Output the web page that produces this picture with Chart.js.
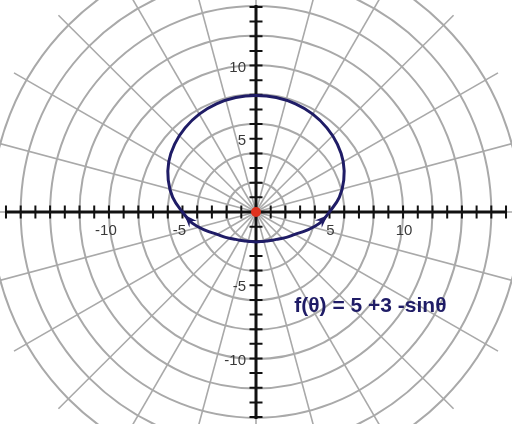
<!DOCTYPE html>
<html>
<head>
<meta charset="utf-8">
<script src="https://cdn.jsdelivr.net/npm/chart.js@4.4.1/dist/chart.umd.min.js"></script>
<style>
  html, body { margin: 0; padding: 0; background: #fff; }
  canvas { display: block; }
</style>
</head>
<body>
<canvas id="polarChart" width="512" height="424"></canvas>
<script>
// curve samples: angle (degrees) and radius
const thetaDeg = [0, 10, 20, 30, 40, 50, 60, 70, 80, 90, 100, 110, 120, 130, 140, 150, 160, 170,
  180, 190, 200, 210, 220, 230, 240, 250, 260, 270, 280, 290, 300, 310, 320, 330, 340, 350, 360];
const rPolar = [5, 5.75, 6.35, 6.85, 7.22, 7.5, 7.72, 7.86, 7.94, 7.96, 7.94, 7.86, 7.72, 7.5, 7.22, 6.85, 6.35, 5.75,
  5, 4.4, 3.65, 3.05, 2.7, 2.4, 2.22, 2.1, 2.05, 2.04, 2.05, 2.1, 2.22, 2.4, 2.7, 3.05, 3.65, 4.4, 5];

// polar grid
const gridRadii = [2, 4, 6, 8, 10, 12, 14, 16, 18];
const rayAngles = [0, 15, 30, 45, 60, 75, 90, 105, 120, 135, 150, 165, 180, 195, 210, 225, 240, 255, 270, 285, 300, 315, 330, 345];
const rayLength = 19;

// axis tick labels
const xTickLabels = [-10, -5, 5, 10];
const yTickLabels = [10, 5, -5, -10];

// arrow heads near the x axis: index of the tip sample pair and direction
const arrowTips = [{ x: 4.87, y: -0.22 }, { x: -4.87, y: -0.18 }];
const arrowTails = [{ x: 4.35, y: -0.72 }, { x: -4.4, y: -0.7 }];

const formulaText = 'f(\u03B8) = 5 +3 -sin\u03B8';

const navy = '#1f1c66';
const gridGrey = '#a9a9a9';

const toXY = (deg, r) => {
  const t = deg * Math.PI / 180;
  return { x: r * Math.cos(t), y: r * Math.sin(t) };
};

const curvePoints = thetaDeg.map((d, i) => toXY(d, rPolar[i]));

const polarBackground = {
  id: 'polarBackground',
  beforeDatasetsDraw(chart) {
    const { ctx, scales: { x, y } } = chart;
    const cx = x.getPixelForValue(0);
    const cy = y.getPixelForValue(0);
    const unit = x.getPixelForValue(1) - cx;
    ctx.save();
    ctx.strokeStyle = gridGrey;
    ctx.lineWidth = 2;
    gridRadii.forEach(r => {
      ctx.beginPath();
      ctx.arc(cx, cy, r * unit, 0, Math.PI * 2);
      ctx.stroke();
    });
    ctx.lineWidth = 1.6;
    rayAngles.forEach(a => {
      const p = toXY(a, rayLength);
      ctx.beginPath();
      ctx.moveTo(cx, cy);
      ctx.lineTo(x.getPixelForValue(p.x), y.getPixelForValue(p.y));
      ctx.stroke();
    });

    // axes
    ctx.strokeStyle = '#111';
    ctx.lineWidth = 3;
    ctx.beginPath();
    ctx.moveTo(chart.chartArea.left, cy);
    ctx.lineTo(chart.chartArea.right, cy);
    ctx.moveTo(cx, chart.chartArea.top);
    ctx.lineTo(cx, chart.chartArea.bottom);
    ctx.stroke();

    // unit ticks
    ctx.lineWidth = 2;
    ctx.beginPath();
    for (let v = Math.ceil(x.min); v <= Math.floor(x.max); v++) {
      if (v === 0) continue;
      const px = x.getPixelForValue(v);
      ctx.moveTo(px, cy - 6.5);
      ctx.lineTo(px, cy + 6.5);
    }
    for (let v = Math.ceil(y.min); v <= Math.floor(y.max); v++) {
      if (v === 0) continue;
      const py = y.getPixelForValue(v);
      ctx.moveTo(cx - 6.5, py);
      ctx.lineTo(cx + 6.5, py);
    }
    ctx.stroke();

    // tick labels
    ctx.fillStyle = '#3a3a3a';
    ctx.font = '15px "Liberation Sans", Arial, sans-serif';
    ctx.textAlign = 'center';
    ctx.textBaseline = 'middle';
    xTickLabels.forEach(v => {
      const off = v < 0 ? -3 : 1;
      ctx.fillText(String(v), x.getPixelForValue(v) + off, cy + 19);
    });
    ctx.textAlign = 'right';
    yTickLabels.forEach(v => {
      ctx.fillText(String(v), cx - 10, y.getPixelForValue(v) + 2);
    });
    ctx.restore();
  },
  afterDatasetsDraw(chart) {
    const { ctx, scales: { x, y } } = chart;
    ctx.save();
    // arrow heads
    ctx.fillStyle = navy;
    arrowTips.forEach((tip, i) => {
      const back = arrowTails[i];
      const tx = x.getPixelForValue(tip.x), ty = y.getPixelForValue(tip.y);
      const bx = x.getPixelForValue(back.x), by = y.getPixelForValue(back.y);
      const ang = Math.atan2(ty - by, tx - bx);
      const len = 13, half = 5;
      ctx.beginPath();
      ctx.moveTo(tx, ty);
      ctx.lineTo(tx - len * Math.cos(ang) + half * Math.sin(ang), ty - len * Math.sin(ang) - half * Math.cos(ang));
      ctx.lineTo(tx - len * 0.65 * Math.cos(ang), ty - len * 0.65 * Math.sin(ang));
      ctx.lineTo(tx - len * Math.cos(ang) - half * Math.sin(ang), ty - len * Math.sin(ang) + half * Math.cos(ang));
      ctx.closePath();
      ctx.fill();
    });

    // formula
    ctx.fillStyle = navy;
    ctx.font = 'bold 21px "Liberation Sans", Arial, sans-serif';
    ctx.textAlign = 'left';
    ctx.textBaseline = 'middle';
    ctx.fillText(formulaText, x.getPixelForValue(2.6), y.getPixelForValue(-6.45));
    ctx.restore();
  }
};

new Chart(document.getElementById('polarChart').getContext('2d'), {
  type: 'scatter',
  data: {
    datasets: [
      {
        data: curvePoints,
        showLine: true,
        borderColor: navy,
        borderWidth: 3,
        pointRadius: 0,
        tension: 0.4
      },
      {
        data: [{ x: 0, y: 0 }],
        pointRadius: 5,
        pointBackgroundColor: '#e0321e',
        pointBorderWidth: 0
      }
    ]
  },
  options: {
    responsive: false,
    animation: false,
    layout: { padding: 0 },
    plugins: { legend: { display: false }, tooltip: { enabled: false } },
    scales: {
      x: { type: 'linear', min: -256 / 15, max: 256 / 15, display: false },
      y: { type: 'linear', min: -212 / 15, max: 212 / 15, display: false }
    }
  },
  plugins: [polarBackground]
});
</script>
</body>
</html>
